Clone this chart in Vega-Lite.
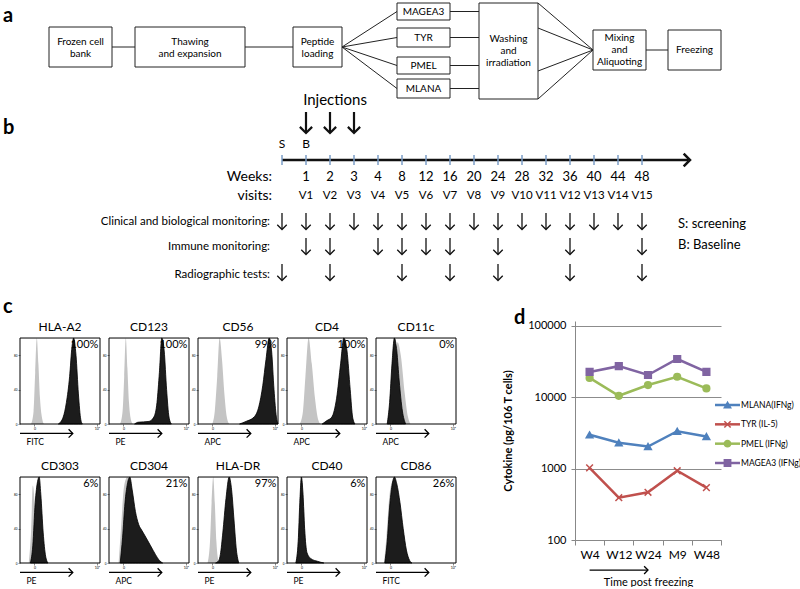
{
  "$schema": "https://vega.github.io/schema/vega-lite/v6.json",
  "padding": 0,
  "background": "white",
  "config": {
    "font": "Lato",
    "view": {"stroke": null},
    "axis": {"labelColor": "#000", "titleColor": "#000"},
    "text": {"color": "#000"}
  },
  "spacing": 27,
  "bounds": "flush",
  "vconcat": [
    {
      "width": 780,
      "height": 294,
      "layer": [
        {
          "layer": [
            {
              "data": {"values": [
                {"ax": 112, "ay": 47, "bx": 135, "by": 47},
                {"ax": 245, "ay": 47, "bx": 293, "by": 47},
                {"ax": 342, "ay": 47, "bx": 397, "by": 11.5},
                {"ax": 342, "ay": 47, "bx": 397, "by": 37.5},
                {"ax": 342, "ay": 47, "bx": 397, "by": 65.5},
                {"ax": 342, "ay": 47, "bx": 397, "by": 88.5},
                {"ax": 450, "ay": 11.5, "bx": 479, "by": 11.5},
                {"ax": 450, "ay": 37.5, "bx": 479, "by": 37.5},
                {"ax": 450, "ay": 65.5, "bx": 479, "by": 65.5},
                {"ax": 450, "ay": 88.5, "bx": 479, "by": 88.5},
                {"ax": 538, "ay": 3, "bx": 593, "by": 50},
                {"ax": 538, "ay": 28, "bx": 593, "by": 50},
                {"ax": 538, "ay": 71, "bx": 593, "by": 50},
                {"ax": 538, "ay": 99, "bx": 593, "by": 50},
                {"ax": 646, "ay": 50, "bx": 668, "by": 50}
              ]},
              "mark": {"type": "rule", "color": "#222", "strokeWidth": 1},
              "encoding": {
                "x": {"field": "ax", "type": "quantitative", "scale": {"domain": [20, 800], "nice": false, "zero": false}, "axis": null},
                "x2": {"field": "bx"},
                "y": {"field": "ay", "type": "quantitative", "scale": {"domain": [0, 294], "nice": false, "zero": false, "reverse": true}, "axis": null},
                "y2": {"field": "by"}
              }
            },
            {
              "data": {"name": "boxes", "values": [
                {"label": "Frozen cell\nbank", "x1": 49, "x2": 112, "y1": 27, "y2": 67, "cx": 80.5, "cy": 41.5},
                {"label": "Thawing\nand expansion", "x1": 135, "x2": 245, "y1": 27, "y2": 67, "cx": 190, "cy": 41.5},
                {"label": "Peptide\nloading", "x1": 293, "x2": 342, "y1": 27, "y2": 67, "cx": 317.5, "cy": 41.5},
                {"label": "MAGEA3", "x1": 397, "x2": 450, "y1": 3, "y2": 20, "cx": 423.5, "cy": 11.5},
                {"label": "TYR", "x1": 397, "x2": 450, "y1": 28, "y2": 47, "cx": 423.5, "cy": 37.5},
                {"label": "PMEL", "x1": 397, "x2": 450, "y1": 57, "y2": 74, "cx": 423.5, "cy": 65.5},
                {"label": "MLANA", "x1": 397, "x2": 450, "y1": 79, "y2": 98, "cx": 423.5, "cy": 88.5},
                {"label": "Washing\nand\nirradiation", "x1": 479, "x2": 538, "y1": 3, "y2": 99, "cx": 508.5, "cy": 38.5},
                {"label": "Mixing\nand\nAliquoting", "x1": 593, "x2": 646, "y1": 30, "y2": 70, "cx": 619.5, "cy": 37.5},
                {"label": "Freezing", "x1": 668, "x2": 721, "y1": 30, "y2": 70, "cx": 694.5, "cy": 50}
              ]},
              "mark": {"type": "rect", "fill": "white", "stroke": "#222", "strokeWidth": 1},
              "encoding": {
                "x": {"field": "x1", "type": "quantitative", "axis": null},
                "x2": {"field": "x2"},
                "y": {"field": "y1", "type": "quantitative", "axis": null},
                "y2": {"field": "y2"}
              }
            },
            {
              "data": {"name": "boxes"},
              "mark": {"type": "text", "fontSize": 10, "lineBreak": "\n", "lineHeight": 12, "align": "center", "baseline": "middle"},
              "encoding": {
                "x": {"field": "cx", "type": "quantitative", "axis": null},
                "y": {"field": "cy", "type": "quantitative", "axis": null},
                "text": {"field": "label"}
              }
            },
            {
              "data": {"values": [{"t": "a", "x": 3, "y": 16}, {"t": "b", "x": 3, "y": 128}, {"t": "c", "x": 3, "y": 307}, {"t": "d", "x": 514, "y": 318}]},
              "mark": {"type": "text", "fontSize": 20, "fontWeight": "bold", "align": "left", "baseline": "middle"},
              "encoding": {
                "x": {"field": "x", "type": "quantitative", "axis": null},
                "y": {"field": "y", "type": "quantitative", "axis": null},
                "text": {"field": "t"}
              }
            },
            {
              "data": {"values": [{"t": "Injections", "x": 335, "y": 100}]},
              "mark": {"type": "text", "fontSize": 15, "align": "center", "baseline": "middle"},
              "encoding": {
                "x": {"field": "x", "type": "quantitative", "axis": null},
                "y": {"field": "y", "type": "quantitative", "axis": null},
                "text": {"field": "t"}
              }
            },
            {
              "data": {"values": [{"t": "Weeks:", "x": 272, "y": 177}, {"t": "visits:", "x": 272, "y": 196}]},
              "mark": {"type": "text", "fontSize": 14, "align": "right", "baseline": "middle"},
              "encoding": {
                "x": {"field": "x", "type": "quantitative", "axis": null},
                "y": {"field": "y", "type": "quantitative", "axis": null},
                "text": {"field": "t"}
              }
            },
            {
              "data": {"values": [
                {"t": "Clinical and biological monitoring:", "x": 270, "y": 222},
                {"t": "Immune monitoring:", "x": 270, "y": 247},
                {"t": "Radiographic tests:", "x": 270, "y": 275}
              ]},
              "mark": {"type": "text", "fontSize": 11.5, "align": "right", "baseline": "middle"},
              "encoding": {
                "x": {"field": "x", "type": "quantitative", "axis": null},
                "y": {"field": "y", "type": "quantitative", "axis": null},
                "text": {"field": "t"}
              }
            },
            {
              "data": {"values": [{"t": "S: screening", "x": 678, "y": 224}, {"t": "B: Baseline", "x": 678, "y": 245}]},
              "mark": {"type": "text", "fontSize": 13, "align": "left", "baseline": "middle"},
              "encoding": {
                "x": {"field": "x", "type": "quantitative", "axis": null},
                "y": {"field": "y", "type": "quantitative", "axis": null},
                "text": {"field": "t"}
              }
            },
            {
              "data": {"values": [{"x": 282, "x2": 688, "y": 160}]},
              "mark": {"type": "rule", "color": "#111", "strokeWidth": 2.5},
              "encoding": {
                "x": {"field": "x", "type": "quantitative", "axis": null},
                "x2": {"field": "x2"},
                "y": {"field": "y", "type": "quantitative", "axis": null}
              }
            },
            {
              "data": {"values": [{"x": 690, "y": 160}]},
              "mark": {"type": "point", "shape": "M-1,-1L0,0L-1,1", "size": 160, "filled": false, "color": "#111", "strokeWidth": 2.5, "opacity": 1},
              "encoding": {
                "x": {"field": "x", "type": "quantitative", "axis": null},
                "y": {"field": "y", "type": "quantitative", "axis": null}
              }
            }
          ]
        },
        {
          "layer": [
            {
              "data": {"name": "weeks", "values": [
                {"w": "S", "sb": "S"},
                {"w": "1", "v": "V1", "sb": "B", "inj": 1},
                {"w": "2", "v": "V2", "inj": 1},
                {"w": "3", "v": "V3", "inj": 1},
                {"w": "4", "v": "V4"},
                {"w": "8", "v": "V5"},
                {"w": "12", "v": "V6"},
                {"w": "16", "v": "V7"},
                {"w": "20", "v": "V8"},
                {"w": "24", "v": "V9"},
                {"w": "28", "v": "V10"},
                {"w": "32", "v": "V11"},
                {"w": "36", "v": "V12"},
                {"w": "40", "v": "V13"},
                {"w": "44", "v": "V14"},
                {"w": "48", "v": "V15"}
              ]},
              "mark": {"type": "rule", "color": "#7a9cc6", "strokeWidth": 1.5},
              "encoding": {
                "x": {"field": "w", "type": "ordinal", "axis": null, "scale": {"type": "point", "domain": ["S", "1", "2", "3", "4", "8", "12", "16", "20", "24", "28", "32", "36", "40", "44", "48"], "range": [262, 622], "padding": 0}},
                "y": {"datum": 155, "axis": null},
                "y2": {"datum": 165}
              }
            },
            {
              "data": {"name": "weeks"},
              "transform": [{"filter": "datum.w != 'S'"}],
              "mark": {"type": "text", "fontSize": 13, "align": "center", "baseline": "middle"},
              "encoding": {
                "x": {"field": "w", "type": "ordinal", "axis": null},
                "y": {"datum": 177, "axis": null},
                "text": {"field": "w"}
              }
            },
            {
              "data": {"name": "weeks"},
              "transform": [{"filter": "datum.v"}],
              "mark": {"type": "text", "fontSize": 11.5, "align": "center", "baseline": "middle"},
              "encoding": {
                "x": {"field": "w", "type": "ordinal", "axis": null},
                "y": {"datum": 196, "axis": null},
                "text": {"field": "v"}
              }
            },
            {
              "data": {"name": "weeks"},
              "transform": [{"filter": "datum.sb"}],
              "mark": {"type": "text", "fontSize": 12, "align": "center", "baseline": "middle"},
              "encoding": {
                "x": {"field": "w", "type": "ordinal", "axis": null},
                "y": {"datum": 144, "axis": null},
                "text": {"field": "sb"}
              }
            },
            {
              "data": {"name": "weeks"},
              "transform": [{"filter": "datum.inj"}],
              "mark": {"type": "rule", "color": "#111", "strokeWidth": 2.2},
              "encoding": {
                "x": {"field": "w", "type": "ordinal", "axis": null},
                "y": {"datum": 112, "axis": null},
                "y2": {"datum": 132}
              }
            },
            {
              "data": {"name": "weeks"},
              "transform": [{"filter": "datum.inj"}],
              "mark": {"type": "point", "shape": "M-1,-1L0,0L1,-1", "size": 150, "filled": false, "color": "#111", "strokeWidth": 2.2, "opacity": 1},
              "encoding": {
                "x": {"field": "w", "type": "ordinal", "axis": null},
                "y": {"datum": 133, "axis": null}
              }
            },
            {
              "data": {"name": "mon", "values": [
                {"r": "c", "w": "S"}, {"r": "c", "w": "1"}, {"r": "c", "w": "2"}, {"r": "c", "w": "3"},
                {"r": "c", "w": "4"}, {"r": "c", "w": "8"}, {"r": "c", "w": "12"}, {"r": "c", "w": "16"},
                {"r": "c", "w": "20"}, {"r": "c", "w": "24"}, {"r": "c", "w": "28"}, {"r": "c", "w": "32"},
                {"r": "c", "w": "36"}, {"r": "c", "w": "40"}, {"r": "c", "w": "44"}, {"r": "c", "w": "48"},
                {"r": "i", "w": "1"}, {"r": "i", "w": "2"}, {"r": "i", "w": "4"}, {"r": "i", "w": "8"},
                {"r": "i", "w": "12"}, {"r": "i", "w": "16"}, {"r": "i", "w": "24"}, {"r": "i", "w": "36"},
                {"r": "i", "w": "48"},
                {"r": "r", "w": "S"}, {"r": "r", "w": "2"}, {"r": "r", "w": "8"}, {"r": "r", "w": "16"},
                {"r": "r", "w": "24"}, {"r": "r", "w": "36"}, {"r": "r", "w": "48"}
              ]},
              "transform": [{"filter": "datum.r == 'c'"}],
              "mark": {"type": "rule", "color": "#111", "strokeWidth": 1.3},
              "encoding": {
                "x": {"field": "w", "type": "ordinal", "axis": null},
                "y": {"datum": 213, "axis": null},
                "y2": {"datum": 229}
              }
            },
            {
              "data": {"name": "mon"},
              "transform": [{"filter": "datum.r == 'c'"}],
              "mark": {"type": "point", "shape": "M-1,-1L0,0L1,-1", "size": 90, "filled": false, "color": "#111", "strokeWidth": 1.3, "opacity": 1},
              "encoding": {
                "x": {"field": "w", "type": "ordinal", "axis": null},
                "y": {"datum": 229.5, "axis": null}
              }
            },
            {
              "data": {"name": "mon"},
              "transform": [{"filter": "datum.r == 'i'"}],
              "mark": {"type": "rule", "color": "#111", "strokeWidth": 1.3},
              "encoding": {
                "x": {"field": "w", "type": "ordinal", "axis": null},
                "y": {"datum": 238, "axis": null},
                "y2": {"datum": 254}
              }
            },
            {
              "data": {"name": "mon"},
              "transform": [{"filter": "datum.r == 'i'"}],
              "mark": {"type": "point", "shape": "M-1,-1L0,0L1,-1", "size": 90, "filled": false, "color": "#111", "strokeWidth": 1.3, "opacity": 1},
              "encoding": {
                "x": {"field": "w", "type": "ordinal", "axis": null},
                "y": {"datum": 254.5, "axis": null}
              }
            },
            {
              "data": {"name": "mon"},
              "transform": [{"filter": "datum.r == 'r'"}],
              "mark": {"type": "rule", "color": "#111", "strokeWidth": 1.3},
              "encoding": {
                "x": {"field": "w", "type": "ordinal", "axis": null},
                "y": {"datum": 264, "axis": null},
                "y2": {"datum": 280}
              }
            },
            {
              "data": {"name": "mon"},
              "transform": [{"filter": "datum.r == 'r'"}],
              "mark": {"type": "point", "shape": "M-1,-1L0,0L1,-1", "size": 90, "filled": false, "color": "#111", "strokeWidth": 1.3, "opacity": 1},
              "encoding": {
                "x": {"field": "w", "type": "ordinal", "axis": null},
                "y": {"datum": 280.5, "axis": null}
              }
            }
          ]
        }
      ],
      "resolve": {"scale": {"x": "independent"}}
    },
    {
      "hconcat": [
        {
          "data": {"values": [
            {"m": "HLA-A2", "pct": "100%", "ch": "FITC"},
            {"m": "CD123", "pct": "100%", "ch": "PE"},
            {"m": "CD56", "pct": "99%", "ch": "APC"},
            {"m": "CD4", "pct": "100%", "ch": "APC"},
            {"m": "CD11c", "pct": "0%", "ch": "APC"},
            {"m": "CD303", "pct": "6%", "ch": "PE"},
            {"m": "CD304", "pct": "21%", "ch": "APC"},
            {"m": "HLA-DR", "pct": "97%", "ch": "PE"},
            {"m": "CD40", "pct": "6%", "ch": "PE"},
            {"m": "CD86", "pct": "26%", "ch": "FITC"},
            {"m": "HLA-A2", "s": "iso", "x": 14, "y": 0}, {"m": "HLA-A2", "s": "iso", "x": 17, "y": 15}, {"m": "HLA-A2", "s": "iso", "x": 19, "y": 60}, {"m": "HLA-A2", "s": "iso", "x": 21, "y": 100}, {"m": "HLA-A2", "s": "iso", "x": 23, "y": 70}, {"m": "HLA-A2", "s": "iso", "x": 25, "y": 30}, {"m": "HLA-A2", "s": "iso", "x": 28, "y": 5}, {"m": "HLA-A2", "s": "iso", "x": 30, "y": 0},
            {"m": "HLA-A2", "s": "st", "x": 48, "y": 0}, {"m": "HLA-A2", "s": "st", "x": 54, "y": 8}, {"m": "HLA-A2", "s": "st", "x": 58, "y": 25}, {"m": "HLA-A2", "s": "st", "x": 62, "y": 55}, {"m": "HLA-A2", "s": "st", "x": 65, "y": 90}, {"m": "HLA-A2", "s": "st", "x": 67, "y": 100}, {"m": "HLA-A2", "s": "st", "x": 70, "y": 80}, {"m": "HLA-A2", "s": "st", "x": 73, "y": 35}, {"m": "HLA-A2", "s": "st", "x": 76, "y": 5}, {"m": "HLA-A2", "s": "st", "x": 78, "y": 0},
            {"m": "CD123", "s": "iso", "x": 14, "y": 0}, {"m": "CD123", "s": "iso", "x": 17, "y": 15}, {"m": "CD123", "s": "iso", "x": 19, "y": 55}, {"m": "CD123", "s": "iso", "x": 21, "y": 100}, {"m": "CD123", "s": "iso", "x": 23, "y": 65}, {"m": "CD123", "s": "iso", "x": 25, "y": 25}, {"m": "CD123", "s": "iso", "x": 28, "y": 3}, {"m": "CD123", "s": "iso", "x": 30, "y": 0},
            {"m": "CD123", "s": "st", "x": 32, "y": 0}, {"m": "CD123", "s": "st", "x": 36, "y": 2}, {"m": "CD123", "s": "st", "x": 50, "y": 3}, {"m": "CD123", "s": "st", "x": 56, "y": 8}, {"m": "CD123", "s": "st", "x": 60, "y": 25}, {"m": "CD123", "s": "st", "x": 63, "y": 60}, {"m": "CD123", "s": "st", "x": 66, "y": 100}, {"m": "CD123", "s": "st", "x": 69, "y": 85}, {"m": "CD123", "s": "st", "x": 72, "y": 40}, {"m": "CD123", "s": "st", "x": 75, "y": 8}, {"m": "CD123", "s": "st", "x": 78, "y": 0},
            {"m": "CD56", "s": "iso", "x": 18, "y": 0}, {"m": "CD56", "s": "iso", "x": 21, "y": 15}, {"m": "CD56", "s": "iso", "x": 24, "y": 55}, {"m": "CD56", "s": "iso", "x": 27, "y": 100}, {"m": "CD56", "s": "iso", "x": 30, "y": 75}, {"m": "CD56", "s": "iso", "x": 33, "y": 35}, {"m": "CD56", "s": "iso", "x": 36, "y": 8}, {"m": "CD56", "s": "iso", "x": 39, "y": 0},
            {"m": "CD56", "s": "st", "x": 52, "y": 0}, {"m": "CD56", "s": "st", "x": 60, "y": 3}, {"m": "CD56", "s": "st", "x": 70, "y": 8}, {"m": "CD56", "s": "st", "x": 76, "y": 20}, {"m": "CD56", "s": "st", "x": 81, "y": 45}, {"m": "CD56", "s": "st", "x": 85, "y": 75}, {"m": "CD56", "s": "st", "x": 89, "y": 100}, {"m": "CD56", "s": "st", "x": 92, "y": 85}, {"m": "CD56", "s": "st", "x": 95, "y": 40}, {"m": "CD56", "s": "st", "x": 98, "y": 8}, {"m": "CD56", "s": "st", "x": 100, "y": 0},
            {"m": "CD4", "s": "iso", "x": 16, "y": 0}, {"m": "CD4", "s": "iso", "x": 20, "y": 15}, {"m": "CD4", "s": "iso", "x": 23, "y": 55}, {"m": "CD4", "s": "iso", "x": 27, "y": 100}, {"m": "CD4", "s": "iso", "x": 31, "y": 70}, {"m": "CD4", "s": "iso", "x": 35, "y": 30}, {"m": "CD4", "s": "iso", "x": 39, "y": 5}, {"m": "CD4", "s": "iso", "x": 42, "y": 0},
            {"m": "CD4", "s": "st", "x": 44, "y": 0}, {"m": "CD4", "s": "st", "x": 50, "y": 4}, {"m": "CD4", "s": "st", "x": 56, "y": 8}, {"m": "CD4", "s": "st", "x": 62, "y": 30}, {"m": "CD4", "s": "st", "x": 67, "y": 70}, {"m": "CD4", "s": "st", "x": 71, "y": 100}, {"m": "CD4", "s": "st", "x": 75, "y": 85}, {"m": "CD4", "s": "st", "x": 79, "y": 40}, {"m": "CD4", "s": "st", "x": 82, "y": 8}, {"m": "CD4", "s": "st", "x": 85, "y": 0},
            {"m": "CD11c", "s": "iso", "x": 15, "y": 0}, {"m": "CD11c", "s": "iso", "x": 19, "y": 20}, {"m": "CD11c", "s": "iso", "x": 23, "y": 60}, {"m": "CD11c", "s": "iso", "x": 27, "y": 95}, {"m": "CD11c", "s": "iso", "x": 31, "y": 80}, {"m": "CD11c", "s": "iso", "x": 36, "y": 35}, {"m": "CD11c", "s": "iso", "x": 40, "y": 8}, {"m": "CD11c", "s": "iso", "x": 43, "y": 0},
            {"m": "CD11c", "s": "st", "x": 14, "y": 0}, {"m": "CD11c", "s": "st", "x": 17, "y": 25}, {"m": "CD11c", "s": "st", "x": 20, "y": 70}, {"m": "CD11c", "s": "st", "x": 23, "y": 100}, {"m": "CD11c", "s": "st", "x": 26, "y": 85}, {"m": "CD11c", "s": "st", "x": 29, "y": 50}, {"m": "CD11c", "s": "st", "x": 33, "y": 15}, {"m": "CD11c", "s": "st", "x": 37, "y": 0},
            {"m": "CD303", "s": "iso", "x": 11, "y": 0}, {"m": "CD303", "s": "iso", "x": 14, "y": 40}, {"m": "CD303", "s": "iso", "x": 16, "y": 90}, {"m": "CD303", "s": "iso", "x": 18, "y": 75}, {"m": "CD303", "s": "iso", "x": 20, "y": 35}, {"m": "CD303", "s": "iso", "x": 22, "y": 5}, {"m": "CD303", "s": "iso", "x": 24, "y": 0},
            {"m": "CD303", "s": "st", "x": 13, "y": 0}, {"m": "CD303", "s": "st", "x": 16, "y": 20}, {"m": "CD303", "s": "st", "x": 19, "y": 70}, {"m": "CD303", "s": "st", "x": 22, "y": 95}, {"m": "CD303", "s": "st", "x": 24, "y": 100}, {"m": "CD303", "s": "st", "x": 26, "y": 80}, {"m": "CD303", "s": "st", "x": 29, "y": 35}, {"m": "CD303", "s": "st", "x": 32, "y": 8}, {"m": "CD303", "s": "st", "x": 35, "y": 0},
            {"m": "CD304", "s": "iso", "x": 12, "y": 0}, {"m": "CD304", "s": "iso", "x": 15, "y": 40}, {"m": "CD304", "s": "iso", "x": 19, "y": 90}, {"m": "CD304", "s": "iso", "x": 23, "y": 100}, {"m": "CD304", "s": "iso", "x": 27, "y": 70}, {"m": "CD304", "s": "iso", "x": 31, "y": 30}, {"m": "CD304", "s": "iso", "x": 35, "y": 5}, {"m": "CD304", "s": "iso", "x": 38, "y": 0},
            {"m": "CD304", "s": "st", "x": 14, "y": 0}, {"m": "CD304", "s": "st", "x": 17, "y": 30}, {"m": "CD304", "s": "st", "x": 20, "y": 70}, {"m": "CD304", "s": "st", "x": 23, "y": 92}, {"m": "CD304", "s": "st", "x": 26, "y": 100}, {"m": "CD304", "s": "st", "x": 29, "y": 85}, {"m": "CD304", "s": "st", "x": 33, "y": 60}, {"m": "CD304", "s": "st", "x": 37, "y": 45}, {"m": "CD304", "s": "st", "x": 41, "y": 38}, {"m": "CD304", "s": "st", "x": 46, "y": 30}, {"m": "CD304", "s": "st", "x": 52, "y": 20}, {"m": "CD304", "s": "st", "x": 58, "y": 10}, {"m": "CD304", "s": "st", "x": 63, "y": 3}, {"m": "CD304", "s": "st", "x": 67, "y": 0},
            {"m": "HLA-DR", "s": "iso", "x": 12, "y": 0}, {"m": "HLA-DR", "s": "iso", "x": 15, "y": 25}, {"m": "HLA-DR", "s": "iso", "x": 17, "y": 70}, {"m": "HLA-DR", "s": "iso", "x": 19, "y": 100}, {"m": "HLA-DR", "s": "iso", "x": 21, "y": 70}, {"m": "HLA-DR", "s": "iso", "x": 23, "y": 25}, {"m": "HLA-DR", "s": "iso", "x": 26, "y": 0},
            {"m": "HLA-DR", "s": "st", "x": 22, "y": 0}, {"m": "HLA-DR", "s": "st", "x": 26, "y": 3}, {"m": "HLA-DR", "s": "st", "x": 28, "y": 10}, {"m": "HLA-DR", "s": "st", "x": 31, "y": 35}, {"m": "HLA-DR", "s": "st", "x": 35, "y": 75}, {"m": "HLA-DR", "s": "st", "x": 39, "y": 100}, {"m": "HLA-DR", "s": "st", "x": 42, "y": 85}, {"m": "HLA-DR", "s": "st", "x": 45, "y": 50}, {"m": "HLA-DR", "s": "st", "x": 48, "y": 15}, {"m": "HLA-DR", "s": "st", "x": 51, "y": 0},
            {"m": "CD40", "s": "iso", "x": 11, "y": 0}, {"m": "CD40", "s": "iso", "x": 14, "y": 30}, {"m": "CD40", "s": "iso", "x": 17, "y": 80}, {"m": "CD40", "s": "iso", "x": 19, "y": 95}, {"m": "CD40", "s": "iso", "x": 21, "y": 70}, {"m": "CD40", "s": "iso", "x": 24, "y": 20}, {"m": "CD40", "s": "iso", "x": 27, "y": 0},
            {"m": "CD40", "s": "st", "x": 11, "y": 0}, {"m": "CD40", "s": "st", "x": 14, "y": 25}, {"m": "CD40", "s": "st", "x": 16, "y": 70}, {"m": "CD40", "s": "st", "x": 18, "y": 100}, {"m": "CD40", "s": "st", "x": 20, "y": 80}, {"m": "CD40", "s": "st", "x": 22, "y": 40}, {"m": "CD40", "s": "st", "x": 25, "y": 12}, {"m": "CD40", "s": "st", "x": 30, "y": 5}, {"m": "CD40", "s": "st", "x": 38, "y": 2}, {"m": "CD40", "s": "st", "x": 46, "y": 0},
            {"m": "CD86", "s": "iso", "x": 10, "y": 0}, {"m": "CD86", "s": "iso", "x": 13, "y": 30}, {"m": "CD86", "s": "iso", "x": 17, "y": 80}, {"m": "CD86", "s": "iso", "x": 21, "y": 95}, {"m": "CD86", "s": "iso", "x": 25, "y": 70}, {"m": "CD86", "s": "iso", "x": 30, "y": 25}, {"m": "CD86", "s": "iso", "x": 35, "y": 5}, {"m": "CD86", "s": "iso", "x": 39, "y": 0},
            {"m": "CD86", "s": "st", "x": 11, "y": 0}, {"m": "CD86", "s": "st", "x": 14, "y": 25}, {"m": "CD86", "s": "st", "x": 17, "y": 65}, {"m": "CD86", "s": "st", "x": 20, "y": 90}, {"m": "CD86", "s": "st", "x": 23, "y": 100}, {"m": "CD86", "s": "st", "x": 26, "y": 92}, {"m": "CD86", "s": "st", "x": 30, "y": 70}, {"m": "CD86", "s": "st", "x": 34, "y": 40}, {"m": "CD86", "s": "st", "x": 38, "y": 15}, {"m": "CD86", "s": "st", "x": 42, "y": 3}, {"m": "CD86", "s": "st", "x": 45, "y": 0}
          ]},
          "facet": {
            "field": "m",
            "type": "nominal",
            "sort": ["HLA-A2", "CD123", "CD56", "CD4", "CD11c", "CD303", "CD304", "HLA-DR", "CD40", "CD86"],
            "header": {"title": null, "labels": false, "labelExpr": "''", "labelFontSize": 1, "labelPadding": 0}
          },
          "columns": 5,
          "spacing": {"row": 12, "column": 0},
          "title": {"text": " ", "anchor": "start", "fontSize": 20, "dx": -13, "offset": 6},
          "spec": {
            "width": 80,
            "height": 103,
            "layer": [
              {
                "transform": [{"filter": "datum.s == 'iso'"}],
                "mark": {"type": "area", "interpolate": "monotone", "color": "#c4c4c4"},
                "encoding": {
                  "x": {"field": "x", "type": "quantitative", "scale": {"domain": [0, 100], "nice": false, "zero": false},
                    "axis": {"title": null, "values": [18, 47, 71, 96], "labelExpr": "datum.value == 18 ? '0' : datum.value == 47 ? '10³' : datum.value == 71 ? '10⁴' : '10⁵'", "labelFontSize": 3.5, "tickSize": 2, "domain": false, "grid": false, "labelPadding": 0}},
                  "y": {"field": "y", "type": "quantitative", "stack": null, "scale": {"domain": [0, 119.8], "nice": false},
                    "axis": {"title": null, "values": [0, 20, 40, 60, 80, 100], "labelFontSize": 3, "tickSize": 2, "domain": false, "grid": false, "labelPadding": 1}}
                }
              },
              {
                "transform": [{"filter": "datum.s == 'st'"}],
                "mark": {"type": "area", "interpolate": "monotone", "fill": "#1c1c1c", "stroke": "#000", "strokeWidth": 0.8},
                "encoding": {
                  "x": {"field": "x", "type": "quantitative"},
                  "y": {"field": "y", "type": "quantitative", "stack": null}
                }
              },
              {
                "transform": [{"filter": "datum.pct"}],
                "mark": {"type": "rect", "fill": "transparent", "stroke": "#000", "strokeWidth": 1},
                "encoding": {
                  "x": {"datum": 0},
                  "x2": {"datum": 100},
                  "y": {"datum": 0},
                  "y2": {"datum": 100}
                }
              },
              {
                "transform": [{"filter": "datum.pct"}],
                "mark": {"type": "text", "fontSize": 12, "align": "center", "baseline": "middle"},
                "encoding": {
                  "x": {"datum": 50},
                  "y": {"datum": 112.5},
                  "text": {"field": "m"}
                }
              },
              {
                "transform": [{"filter": "datum.pct"}],
                "mark": {"type": "text", "fontSize": 11, "align": "right", "baseline": "middle"},
                "encoding": {
                  "x": {"datum": 98},
                  "y": {"datum": 92},
                  "text": {"field": "pct"}
                }
              },
              {
                "transform": [{"filter": "datum.pct"}],
                "mark": {"type": "rule", "color": "#000", "strokeWidth": 1.3},
                "encoding": {
                  "x": {"datum": 0},
                  "x2": {"datum": 66},
                  "y": {"datum": -11}
                }
              },
              {
                "transform": [{"filter": "datum.pct"}],
                "mark": {"type": "point", "shape": "M-1,-1L0,0L-1,1", "size": 70, "filled": false, "color": "#000", "strokeWidth": 1.3, "opacity": 1},
                "encoding": {
                  "x": {"datum": 66},
                  "y": {"datum": -11}
                }
              },
              {
                "transform": [{"filter": "datum.pct"}],
                "mark": {"type": "text", "fontSize": 8.5, "align": "left", "baseline": "middle"},
                "encoding": {
                  "x": {"datum": 8},
                  "y": {"datum": -21.5},
                  "text": {"field": "ch"}
                }
              }
            ]
          },
          "resolve": {"axis": {"x": "independent", "y": "independent"}}
        },
        {
          "width": 146,
          "height": 219,
          "layer": [
            {
              "data": {"values": [
                {"t": "W4", "i": 0, "s": "MLANA(IFNg)", "v": 2960},
                {"t": "W12", "i": 1, "s": "MLANA(IFNg)", "v": 2290},
                {"t": "W24", "i": 2, "s": "MLANA(IFNg)", "v": 2030},
                {"t": "M9", "i": 3, "s": "MLANA(IFNg)", "v": 3320},
                {"t": "W48", "i": 4, "s": "MLANA(IFNg)", "v": 2800},
                {"t": "W4", "i": 0, "s": "TYR (IL-5)", "v": 1020},
                {"t": "W12", "i": 1, "s": "TYR (IL-5)", "v": 390},
                {"t": "W24", "i": 2, "s": "TYR (IL-5)", "v": 465},
                {"t": "M9", "i": 3, "s": "TYR (IL-5)", "v": 930},
                {"t": "W48", "i": 4, "s": "TYR (IL-5)", "v": 540},
                {"t": "W4", "i": 0, "s": "PMEL (IFNg)", "v": 18500},
                {"t": "W12", "i": 1, "s": "PMEL (IFNg)", "v": 10400},
                {"t": "W24", "i": 2, "s": "PMEL (IFNg)", "v": 14700},
                {"t": "M9", "i": 3, "s": "PMEL (IFNg)", "v": 19200},
                {"t": "W48", "i": 4, "s": "PMEL (IFNg)", "v": 13200},
                {"t": "W4", "i": 0, "s": "MAGEA3 (IFNg)", "v": 22400},
                {"t": "W12", "i": 1, "s": "MAGEA3 (IFNg)", "v": 27000},
                {"t": "W24", "i": 2, "s": "MAGEA3 (IFNg)", "v": 20300},
                {"t": "M9", "i": 3, "s": "MAGEA3 (IFNg)", "v": 34000},
                {"t": "W48", "i": 4, "s": "MAGEA3 (IFNg)", "v": 22400}
              ]},
              "layer": [
                {
                  "mark": {"type": "line", "strokeWidth": 2.5},
                  "encoding": {
                    "x": {"field": "t", "type": "ordinal", "bandPosition": 0.5,
                      "scale": {"type": "band", "domain": ["W4", "W12", "W24", "M9", "W48"], "paddingInner": 0, "paddingOuter": 0},
                      "axis": {"title": "Time post freezing", "titleFontSize": 11, "titleFontWeight": "normal", "titlePadding": 16, "labelFontSize": 12, "labelPadding": 4, "labelAngle": 0, "tickBand": "extent", "tickSize": 5, "tickColor": "#888", "domainColor": "#888"}},
                    "y": {"field": "v", "type": "quantitative",
                      "scale": {"type": "log", "domain": [100, 115600], "nice": false},
                      "axis": {"title": "Cytokine (pg/106 T cells)", "titleFontSize": 11, "titleFontWeight": "bold", "titlePadding": 14, "values": [100, 1000, 10000, 100000], "format": "d", "grid": true, "gridColor": "#8c8c8c", "labelFontSize": 11, "labelPadding": 5, "tickSize": 4, "tickColor": "#888", "domainColor": "#888"}},
                    "color": {"field": "s", "type": "nominal", "legend": null,
                      "scale": {"domain": ["MLANA(IFNg)", "TYR (IL-5)", "PMEL (IFNg)", "MAGEA3 (IFNg)"], "range": ["#4f81bd", "#c0504d", "#9bbb59", "#8064a2"]}},
                    "order": {"field": "i", "type": "quantitative"}
                  }
                },
                {
                  "mark": {"type": "point", "filled": true, "size": 45, "strokeWidth": 1.5, "opacity": 1},
                  "encoding": {
                    "x": {"field": "t", "type": "ordinal", "bandPosition": 0.5},
                    "y": {"field": "v", "type": "quantitative"},
                    "fill": {"field": "s", "type": "nominal", "legend": null,
                      "scale": {"domain": ["MLANA(IFNg)", "TYR (IL-5)", "PMEL (IFNg)", "MAGEA3 (IFNg)"], "range": ["#4f81bd", "#c0504d", "#9bbb59", "#8064a2"]}},
                    "stroke": {"field": "s", "type": "nominal", "legend": null,
                      "scale": {"domain": ["MLANA(IFNg)", "TYR (IL-5)", "PMEL (IFNg)", "MAGEA3 (IFNg)"], "range": ["#4f81bd", "#c0504d", "#9bbb59", "#8064a2"]}},
                    "shape": {"field": "s", "type": "nominal", "legend": null,
                      "scale": {"domain": ["MLANA(IFNg)", "TYR (IL-5)", "PMEL (IFNg)", "MAGEA3 (IFNg)"], "range": ["triangle-up", "M-1,-1L1,1M-1,1L1,-1", "circle", "square"]}}
                  }
                },
                {
                  "data": {"values": [{"k": 1}]},
                  "mark": {"type": "rule", "color": "#000", "strokeWidth": 1.3},
                  "encoding": {
                    "x": {"datum": "W4", "type": "ordinal", "bandPosition": 0.5},
                    "x2": {"datum": "W24", "bandPosition": 0.5},
                    "y": {"datum": 38, "type": "quantitative"}
                  }
                },
                {
                  "data": {"values": [{"k": 1}]},
                  "mark": {"type": "point", "shape": "M-1,-1L0,0L-1,1", "size": 60, "filled": false, "color": "#000", "strokeWidth": 1.3, "opacity": 1},
                  "encoding": {
                    "x": {"datum": "W24", "type": "ordinal", "bandPosition": 0.5},
                    "y": {"datum": 38, "type": "quantitative"}
                  }
                }
              ]
            },
            {
              "data": {"values": [
                {"s": "MLANA(IFNg)"},
                {"s": "TYR (IL-5)"},
                {"s": "PMEL (IFNg)"},
                {"s": "MAGEA3 (IFNg)"}
              ]},
              "layer": [
                {
                  "mark": {"type": "rule", "strokeWidth": 2.5},
                  "encoding": {
                    "x": {"datum": 140, "type": "quantitative", "axis": null, "scale": {"domain": [0, 146], "nice": false, "zero": false}},
                    "x2": {"datum": 165},
                    "y": {"field": "s", "type": "nominal", "axis": null, "scale": {"type": "point", "domain": ["MLANA(IFNg)", "TYR (IL-5)", "PMEL (IFNg)", "MAGEA3 (IFNg)"], "range": [84, 142], "padding": 0}},
                    "color": {"field": "s", "type": "nominal", "legend": null}
                  }
                },
                {
                  "mark": {"type": "point", "filled": true, "size": 40, "strokeWidth": 1.5, "opacity": 1},
                  "encoding": {
                    "x": {"datum": 152.5, "type": "quantitative"},
                    "y": {"field": "s", "type": "nominal"},
                    "fill": {"field": "s", "type": "nominal", "legend": null},
                    "stroke": {"field": "s", "type": "nominal", "legend": null},
                    "shape": {"field": "s", "type": "nominal", "legend": null}
                  }
                },
                {
                  "mark": {"type": "text", "fontSize": 8.5, "align": "left", "baseline": "middle"},
                  "encoding": {
                    "x": {"datum": 166, "type": "quantitative"},
                    "y": {"field": "s", "type": "nominal"},
                    "text": {"field": "s"}
                  }
                }
              ]
            }
          ],
          "resolve": {"scale": {"x": "independent", "y": "independent"}}
        }
      ],
      "spacing": 45,
      "bounds": "full"
    }
  ]
}
